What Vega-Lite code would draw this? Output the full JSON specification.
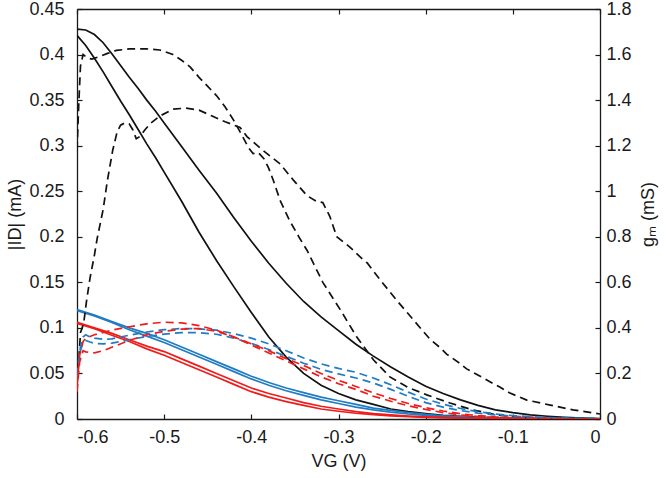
{
  "$schema": "https://vega.github.io/schema/vega-lite/v6.json",
  "width": 523,
  "height": 410,
  "autosize": {"type": "none"},
  "padding": {"left": 77, "top": 9, "right": 66, "bottom": 59},
  "background": "white",
  "config": {
    "view": {"stroke": null},
    "font": "Liberation Sans",
    "axis": {
      "grid": false,
      "domainColor": "#1a1a1a",
      "domainWidth": 1.3,
      "tickColor": "#1a1a1a",
      "tickWidth": 1.2,
      "tickSize": -5,
      "labelFont": "Liberation Sans",
      "labelFontSize": 18,
      "labelColor": "#1a1a1a",
      "titleFont": "Liberation Sans",
      "titleFontSize": 18,
      "titleFontWeight": "normal",
      "titleColor": "#1a1a1a",
      "labelExpr": "replace(format(datum.value, '~g'), '−', '-')"
    }
  },
  "datasets": {
    "curves": [
      {"s":"S1","g":"black","k":"id","v":-0.6,"y":0.428},{"s":"S1","g":"black","k":"id","v":-0.59,"y":0.427},{"s":"S1","g":"black","k":"id","v":-0.58,"y":0.422},{"s":"S1","g":"black","k":"id","v":-0.57,"y":0.413},{"s":"S1","g":"black","k":"id","v":-0.56,"y":0.401},{"s":"S1","g":"black","k":"id","v":-0.55,"y":0.388},{"s":"S1","g":"black","k":"id","v":-0.54,"y":0.375},{"s":"S1","g":"black","k":"id","v":-0.53,"y":0.363},{"s":"S1","g":"black","k":"id","v":-0.52,"y":0.35},{"s":"S1","g":"black","k":"id","v":-0.51,"y":0.338},{"s":"S1","g":"black","k":"id","v":-0.5,"y":0.325},{"s":"S1","g":"black","k":"id","v":-0.48,"y":0.299},{"s":"S1","g":"black","k":"id","v":-0.46,"y":0.273},{"s":"S1","g":"black","k":"id","v":-0.44,"y":0.248},{"s":"S1","g":"black","k":"id","v":-0.42,"y":0.221},{"s":"S1","g":"black","k":"id","v":-0.4,"y":0.195},{"s":"S1","g":"black","k":"id","v":-0.38,"y":0.171},{"s":"S1","g":"black","k":"id","v":-0.36,"y":0.149},{"s":"S1","g":"black","k":"id","v":-0.34,"y":0.129},{"s":"S1","g":"black","k":"id","v":-0.32,"y":0.112},{"s":"S1","g":"black","k":"id","v":-0.3,"y":0.097},{"s":"S1","g":"black","k":"id","v":-0.28,"y":0.082},{"s":"S1","g":"black","k":"id","v":-0.26,"y":0.069},{"s":"S1","g":"black","k":"id","v":-0.24,"y":0.057},{"s":"S1","g":"black","k":"id","v":-0.22,"y":0.046},{"s":"S1","g":"black","k":"id","v":-0.2,"y":0.036},{"s":"S1","g":"black","k":"id","v":-0.18,"y":0.028},{"s":"S1","g":"black","k":"id","v":-0.16,"y":0.021},{"s":"S1","g":"black","k":"id","v":-0.14,"y":0.015},{"s":"S1","g":"black","k":"id","v":-0.12,"y":0.01},{"s":"S1","g":"black","k":"id","v":-0.1,"y":0.007},{"s":"S1","g":"black","k":"id","v":-0.08,"y":0.0045},{"s":"S1","g":"black","k":"id","v":-0.06,"y":0.003},{"s":"S1","g":"black","k":"id","v":-0.04,"y":0.0018},{"s":"S1","g":"black","k":"id","v":-0.02,"y":0.001},{"s":"S1","g":"black","k":"id","v":0,"y":0.0005},

      {"s":"S2","g":"black","k":"id","v":-0.6,"y":0.421},{"s":"S2","g":"black","k":"id","v":-0.59,"y":0.41},{"s":"S2","g":"black","k":"id","v":-0.58,"y":0.396},{"s":"S2","g":"black","k":"id","v":-0.57,"y":0.381},{"s":"S2","g":"black","k":"id","v":-0.56,"y":0.365},{"s":"S2","g":"black","k":"id","v":-0.55,"y":0.349},{"s":"S2","g":"black","k":"id","v":-0.54,"y":0.334},{"s":"S2","g":"black","k":"id","v":-0.53,"y":0.318},{"s":"S2","g":"black","k":"id","v":-0.52,"y":0.302},{"s":"S2","g":"black","k":"id","v":-0.51,"y":0.287},{"s":"S2","g":"black","k":"id","v":-0.5,"y":0.271},{"s":"S2","g":"black","k":"id","v":-0.48,"y":0.239},{"s":"S2","g":"black","k":"id","v":-0.46,"y":0.205},{"s":"S2","g":"black","k":"id","v":-0.44,"y":0.174},{"s":"S2","g":"black","k":"id","v":-0.42,"y":0.145},{"s":"S2","g":"black","k":"id","v":-0.4,"y":0.117},{"s":"S2","g":"black","k":"id","v":-0.38,"y":0.09},{"s":"S2","g":"black","k":"id","v":-0.36,"y":0.068},{"s":"S2","g":"black","k":"id","v":-0.34,"y":0.05},{"s":"S2","g":"black","k":"id","v":-0.32,"y":0.037},{"s":"S2","g":"black","k":"id","v":-0.3,"y":0.028},{"s":"S2","g":"black","k":"id","v":-0.28,"y":0.021},{"s":"S2","g":"black","k":"id","v":-0.26,"y":0.016},{"s":"S2","g":"black","k":"id","v":-0.24,"y":0.011},{"s":"S2","g":"black","k":"id","v":-0.22,"y":0.008},{"s":"S2","g":"black","k":"id","v":-0.2,"y":0.006},{"s":"S2","g":"black","k":"id","v":-0.18,"y":0.004},{"s":"S2","g":"black","k":"id","v":-0.16,"y":0.003},{"s":"S2","g":"black","k":"id","v":-0.14,"y":0.002},{"s":"S2","g":"black","k":"id","v":-0.12,"y":0.0013},{"s":"S2","g":"black","k":"id","v":-0.1,"y":0.0008},{"s":"S2","g":"black","k":"id","v":-0.05,"y":0.0002},{"s":"S2","g":"black","k":"id","v":0,"y":0},

      {"s":"B1","g":"blue","k":"id","v":-0.6,"y":0.12},{"s":"B1","g":"blue","k":"id","v":-0.58,"y":0.114},{"s":"B1","g":"blue","k":"id","v":-0.56,"y":0.107},{"s":"B1","g":"blue","k":"id","v":-0.54,"y":0.1},{"s":"B1","g":"blue","k":"id","v":-0.52,"y":0.094},{"s":"B1","g":"blue","k":"id","v":-0.5,"y":0.087},{"s":"B1","g":"blue","k":"id","v":-0.48,"y":0.079},{"s":"B1","g":"blue","k":"id","v":-0.46,"y":0.071},{"s":"B1","g":"blue","k":"id","v":-0.44,"y":0.063},{"s":"B1","g":"blue","k":"id","v":-0.42,"y":0.055},{"s":"B1","g":"blue","k":"id","v":-0.4,"y":0.047},{"s":"B1","g":"blue","k":"id","v":-0.38,"y":0.04},{"s":"B1","g":"blue","k":"id","v":-0.36,"y":0.034},{"s":"B1","g":"blue","k":"id","v":-0.34,"y":0.029},{"s":"B1","g":"blue","k":"id","v":-0.32,"y":0.024},{"s":"B1","g":"blue","k":"id","v":-0.3,"y":0.02},{"s":"B1","g":"blue","k":"id","v":-0.28,"y":0.016},{"s":"B1","g":"blue","k":"id","v":-0.26,"y":0.012},{"s":"B1","g":"blue","k":"id","v":-0.24,"y":0.0095},{"s":"B1","g":"blue","k":"id","v":-0.22,"y":0.007},{"s":"B1","g":"blue","k":"id","v":-0.2,"y":0.005},{"s":"B1","g":"blue","k":"id","v":-0.18,"y":0.0035},{"s":"B1","g":"blue","k":"id","v":-0.16,"y":0.0025},{"s":"B1","g":"blue","k":"id","v":-0.14,"y":0.0016},{"s":"B1","g":"blue","k":"id","v":-0.12,"y":0.001},{"s":"B1","g":"blue","k":"id","v":-0.1,"y":0.0006},{"s":"B1","g":"blue","k":"id","v":-0.05,"y":0.0002},{"s":"B1","g":"blue","k":"id","v":0,"y":0},

      {"s":"B2","g":"blue","k":"id","v":-0.6,"y":0.119},{"s":"B2","g":"blue","k":"id","v":-0.58,"y":0.113},{"s":"B2","g":"blue","k":"id","v":-0.56,"y":0.106},{"s":"B2","g":"blue","k":"id","v":-0.54,"y":0.098},{"s":"B2","g":"blue","k":"id","v":-0.52,"y":0.091},{"s":"B2","g":"blue","k":"id","v":-0.5,"y":0.084},{"s":"B2","g":"blue","k":"id","v":-0.48,"y":0.076},{"s":"B2","g":"blue","k":"id","v":-0.46,"y":0.068},{"s":"B2","g":"blue","k":"id","v":-0.44,"y":0.06},{"s":"B2","g":"blue","k":"id","v":-0.42,"y":0.052},{"s":"B2","g":"blue","k":"id","v":-0.4,"y":0.044},{"s":"B2","g":"blue","k":"id","v":-0.38,"y":0.037},{"s":"B2","g":"blue","k":"id","v":-0.36,"y":0.031},{"s":"B2","g":"blue","k":"id","v":-0.34,"y":0.026},{"s":"B2","g":"blue","k":"id","v":-0.32,"y":0.021},{"s":"B2","g":"blue","k":"id","v":-0.3,"y":0.017},{"s":"B2","g":"blue","k":"id","v":-0.28,"y":0.013},{"s":"B2","g":"blue","k":"id","v":-0.26,"y":0.01},{"s":"B2","g":"blue","k":"id","v":-0.24,"y":0.0075},{"s":"B2","g":"blue","k":"id","v":-0.22,"y":0.0055},{"s":"B2","g":"blue","k":"id","v":-0.2,"y":0.004},{"s":"B2","g":"blue","k":"id","v":-0.18,"y":0.0028},{"s":"B2","g":"blue","k":"id","v":-0.16,"y":0.002},{"s":"B2","g":"blue","k":"id","v":-0.14,"y":0.0013},{"s":"B2","g":"blue","k":"id","v":-0.12,"y":0.0008},{"s":"B2","g":"blue","k":"id","v":-0.1,"y":0.0005},{"s":"B2","g":"blue","k":"id","v":-0.05,"y":0.0001},{"s":"B2","g":"blue","k":"id","v":0,"y":0},

      {"s":"R1","g":"red","k":"id","v":-0.6,"y":0.106},{"s":"R1","g":"red","k":"id","v":-0.58,"y":0.1},{"s":"R1","g":"red","k":"id","v":-0.56,"y":0.094},{"s":"R1","g":"red","k":"id","v":-0.54,"y":0.087},{"s":"R1","g":"red","k":"id","v":-0.52,"y":0.08},{"s":"R1","g":"red","k":"id","v":-0.5,"y":0.074},{"s":"R1","g":"red","k":"id","v":-0.48,"y":0.066},{"s":"R1","g":"red","k":"id","v":-0.46,"y":0.058},{"s":"R1","g":"red","k":"id","v":-0.44,"y":0.05},{"s":"R1","g":"red","k":"id","v":-0.42,"y":0.042},{"s":"R1","g":"red","k":"id","v":-0.4,"y":0.034},{"s":"R1","g":"red","k":"id","v":-0.38,"y":0.028},{"s":"R1","g":"red","k":"id","v":-0.36,"y":0.023},{"s":"R1","g":"red","k":"id","v":-0.34,"y":0.018},{"s":"R1","g":"red","k":"id","v":-0.32,"y":0.014},{"s":"R1","g":"red","k":"id","v":-0.3,"y":0.011},{"s":"R1","g":"red","k":"id","v":-0.28,"y":0.008},{"s":"R1","g":"red","k":"id","v":-0.26,"y":0.006},{"s":"R1","g":"red","k":"id","v":-0.24,"y":0.0045},{"s":"R1","g":"red","k":"id","v":-0.22,"y":0.0033},{"s":"R1","g":"red","k":"id","v":-0.2,"y":0.0024},{"s":"R1","g":"red","k":"id","v":-0.18,"y":0.0017},{"s":"R1","g":"red","k":"id","v":-0.16,"y":0.0012},{"s":"R1","g":"red","k":"id","v":-0.14,"y":0.0008},{"s":"R1","g":"red","k":"id","v":-0.12,"y":0.0005},{"s":"R1","g":"red","k":"id","v":-0.1,"y":0.0003},{"s":"R1","g":"red","k":"id","v":-0.05,"y":0.0001},{"s":"R1","g":"red","k":"id","v":0,"y":0},

      {"s":"R2","g":"red","k":"id","v":-0.6,"y":0.105},{"s":"R2","g":"red","k":"id","v":-0.58,"y":0.099},{"s":"R2","g":"red","k":"id","v":-0.56,"y":0.092},{"s":"R2","g":"red","k":"id","v":-0.54,"y":0.085},{"s":"R2","g":"red","k":"id","v":-0.52,"y":0.077},{"s":"R2","g":"red","k":"id","v":-0.5,"y":0.07},{"s":"R2","g":"red","k":"id","v":-0.48,"y":0.062},{"s":"R2","g":"red","k":"id","v":-0.46,"y":0.054},{"s":"R2","g":"red","k":"id","v":-0.44,"y":0.046},{"s":"R2","g":"red","k":"id","v":-0.42,"y":0.038},{"s":"R2","g":"red","k":"id","v":-0.4,"y":0.03},{"s":"R2","g":"red","k":"id","v":-0.38,"y":0.024},{"s":"R2","g":"red","k":"id","v":-0.36,"y":0.019},{"s":"R2","g":"red","k":"id","v":-0.34,"y":0.015},{"s":"R2","g":"red","k":"id","v":-0.32,"y":0.011},{"s":"R2","g":"red","k":"id","v":-0.3,"y":0.0085},{"s":"R2","g":"red","k":"id","v":-0.28,"y":0.0063},{"s":"R2","g":"red","k":"id","v":-0.26,"y":0.0047},{"s":"R2","g":"red","k":"id","v":-0.24,"y":0.0035},{"s":"R2","g":"red","k":"id","v":-0.22,"y":0.0025},{"s":"R2","g":"red","k":"id","v":-0.2,"y":0.0018},{"s":"R2","g":"red","k":"id","v":-0.18,"y":0.0013},{"s":"R2","g":"red","k":"id","v":-0.16,"y":0.0009},{"s":"R2","g":"red","k":"id","v":-0.14,"y":0.0006},{"s":"R2","g":"red","k":"id","v":-0.12,"y":0.0004},{"s":"R2","g":"red","k":"id","v":-0.1,"y":0.0002},{"s":"R2","g":"red","k":"id","v":-0.05,"y":0.0001},{"s":"R2","g":"red","k":"id","v":0,"y":0},

      {"s":"D1","g":"black","k":"gm","v":-0.6,"y":1.18},{"s":"D1","g":"black","k":"gm","v":-0.598,"y":1.38},{"s":"D1","g":"black","k":"gm","v":-0.596,"y":1.55},{"s":"D1","g":"black","k":"gm","v":-0.593,"y":1.6},{"s":"D1","g":"black","k":"gm","v":-0.588,"y":1.585},{"s":"D1","g":"black","k":"gm","v":-0.583,"y":1.58},{"s":"D1","g":"black","k":"gm","v":-0.575,"y":1.59},{"s":"D1","g":"black","k":"gm","v":-0.565,"y":1.605},{"s":"D1","g":"black","k":"gm","v":-0.555,"y":1.618},{"s":"D1","g":"black","k":"gm","v":-0.54,"y":1.625},{"s":"D1","g":"black","k":"gm","v":-0.52,"y":1.625},{"s":"D1","g":"black","k":"gm","v":-0.505,"y":1.62},{"s":"D1","g":"black","k":"gm","v":-0.49,"y":1.6},{"s":"D1","g":"black","k":"gm","v":-0.48,"y":1.575},{"s":"D1","g":"black","k":"gm","v":-0.47,"y":1.545},{"s":"D1","g":"black","k":"gm","v":-0.46,"y":1.5},{"s":"D1","g":"black","k":"gm","v":-0.45,"y":1.46},{"s":"D1","g":"black","k":"gm","v":-0.44,"y":1.42},{"s":"D1","g":"black","k":"gm","v":-0.43,"y":1.37},{"s":"D1","g":"black","k":"gm","v":-0.42,"y":1.31},{"s":"D1","g":"black","k":"gm","v":-0.41,"y":1.24},{"s":"D1","g":"black","k":"gm","v":-0.403,"y":1.19},{"s":"D1","g":"black","k":"gm","v":-0.398,"y":1.165},{"s":"D1","g":"black","k":"gm","v":-0.392,"y":1.17},{"s":"D1","g":"black","k":"gm","v":-0.385,"y":1.14},{"s":"D1","g":"black","k":"gm","v":-0.38,"y":1.1},{"s":"D1","g":"black","k":"gm","v":-0.375,"y":1.05},{"s":"D1","g":"black","k":"gm","v":-0.367,"y":0.96},{"s":"D1","g":"black","k":"gm","v":-0.356,"y":0.87},{"s":"D1","g":"black","k":"gm","v":-0.344,"y":0.79},{"s":"D1","g":"black","k":"gm","v":-0.336,"y":0.74},{"s":"D1","g":"black","k":"gm","v":-0.329,"y":0.685},{"s":"D1","g":"black","k":"gm","v":-0.318,"y":0.6},{"s":"D1","g":"black","k":"gm","v":-0.298,"y":0.48},{"s":"D1","g":"black","k":"gm","v":-0.279,"y":0.36},{"s":"D1","g":"black","k":"gm","v":-0.26,"y":0.26},{"s":"D1","g":"black","k":"gm","v":-0.241,"y":0.185},{"s":"D1","g":"black","k":"gm","v":-0.221,"y":0.14},{"s":"D1","g":"black","k":"gm","v":-0.198,"y":0.105},{"s":"D1","g":"black","k":"gm","v":-0.172,"y":0.07},{"s":"D1","g":"black","k":"gm","v":-0.146,"y":0.04},{"s":"D1","g":"black","k":"gm","v":-0.118,"y":0.018},{"s":"D1","g":"black","k":"gm","v":-0.09,"y":0.008},{"s":"D1","g":"black","k":"gm","v":-0.06,"y":0.004},{"s":"D1","g":"black","k":"gm","v":-0.03,"y":0.002},{"s":"D1","g":"black","k":"gm","v":0,"y":0.001},

      {"s":"D2","g":"black","k":"gm","v":-0.6,"y":0.15},{"s":"D2","g":"black","k":"gm","v":-0.598,"y":0.25},{"s":"D2","g":"black","k":"gm","v":-0.596,"y":0.38},{"s":"D2","g":"black","k":"gm","v":-0.594,"y":0.4},{"s":"D2","g":"black","k":"gm","v":-0.592,"y":0.43},{"s":"D2","g":"black","k":"gm","v":-0.589,"y":0.52},{"s":"D2","g":"black","k":"gm","v":-0.585,"y":0.62},{"s":"D2","g":"black","k":"gm","v":-0.58,"y":0.72},{"s":"D2","g":"black","k":"gm","v":-0.577,"y":0.79},{"s":"D2","g":"black","k":"gm","v":-0.57,"y":0.92},{"s":"D2","g":"black","k":"gm","v":-0.565,"y":1.05},{"s":"D2","g":"black","k":"gm","v":-0.559,"y":1.18},{"s":"D2","g":"black","k":"gm","v":-0.554,"y":1.26},{"s":"D2","g":"black","k":"gm","v":-0.55,"y":1.29},{"s":"D2","g":"black","k":"gm","v":-0.545,"y":1.3},{"s":"D2","g":"black","k":"gm","v":-0.54,"y":1.295},{"s":"D2","g":"black","k":"gm","v":-0.536,"y":1.27},{"s":"D2","g":"black","k":"gm","v":-0.532,"y":1.23},{"s":"D2","g":"black","k":"gm","v":-0.528,"y":1.24},{"s":"D2","g":"black","k":"gm","v":-0.522,"y":1.27},{"s":"D2","g":"black","k":"gm","v":-0.515,"y":1.3},{"s":"D2","g":"black","k":"gm","v":-0.505,"y":1.33},{"s":"D2","g":"black","k":"gm","v":-0.49,"y":1.36},{"s":"D2","g":"black","k":"gm","v":-0.475,"y":1.365},{"s":"D2","g":"black","k":"gm","v":-0.46,"y":1.356},{"s":"D2","g":"black","k":"gm","v":-0.445,"y":1.33},{"s":"D2","g":"black","k":"gm","v":-0.43,"y":1.305},{"s":"D2","g":"black","k":"gm","v":-0.413,"y":1.28},{"s":"D2","g":"black","k":"gm","v":-0.405,"y":1.24},{"s":"D2","g":"black","k":"gm","v":-0.387,"y":1.18},{"s":"D2","g":"black","k":"gm","v":-0.367,"y":1.12},{"s":"D2","g":"black","k":"gm","v":-0.352,"y":1.05},{"s":"D2","g":"black","k":"gm","v":-0.336,"y":0.98},{"s":"D2","g":"black","k":"gm","v":-0.325,"y":0.955},{"s":"D2","g":"black","k":"gm","v":-0.318,"y":0.95},{"s":"D2","g":"black","k":"gm","v":-0.31,"y":0.89},{"s":"D2","g":"black","k":"gm","v":-0.302,"y":0.8},{"s":"D2","g":"black","k":"gm","v":-0.287,"y":0.755},{"s":"D2","g":"black","k":"gm","v":-0.272,"y":0.7},{"s":"D2","g":"black","k":"gm","v":-0.267,"y":0.685},{"s":"D2","g":"black","k":"gm","v":-0.252,"y":0.61},{"s":"D2","g":"black","k":"gm","v":-0.233,"y":0.52},{"s":"D2","g":"black","k":"gm","v":-0.214,"y":0.435},{"s":"D2","g":"black","k":"gm","v":-0.195,"y":0.35},{"s":"D2","g":"black","k":"gm","v":-0.184,"y":0.315},{"s":"D2","g":"black","k":"gm","v":-0.176,"y":0.285},{"s":"D2","g":"black","k":"gm","v":-0.161,"y":0.245},{"s":"D2","g":"black","k":"gm","v":-0.153,"y":0.22},{"s":"D2","g":"black","k":"gm","v":-0.134,"y":0.18},{"s":"D2","g":"black","k":"gm","v":-0.115,"y":0.14},{"s":"D2","g":"black","k":"gm","v":-0.104,"y":0.115},{"s":"D2","g":"black","k":"gm","v":-0.084,"y":0.083},{"s":"D2","g":"black","k":"gm","v":-0.057,"y":0.061},{"s":"D2","g":"black","k":"gm","v":-0.031,"y":0.04},{"s":"D2","g":"black","k":"gm","v":0,"y":0.022},

      {"s":"BD1","g":"blue","k":"gm","v":-0.6,"y":0.19},{"s":"BD1","g":"blue","k":"gm","v":-0.598,"y":0.26},{"s":"BD1","g":"blue","k":"gm","v":-0.596,"y":0.32},{"s":"BD1","g":"blue","k":"gm","v":-0.593,"y":0.36},{"s":"BD1","g":"blue","k":"gm","v":-0.59,"y":0.37},{"s":"BD1","g":"blue","k":"gm","v":-0.585,"y":0.36},{"s":"BD1","g":"blue","k":"gm","v":-0.58,"y":0.355},{"s":"BD1","g":"blue","k":"gm","v":-0.57,"y":0.35},{"s":"BD1","g":"blue","k":"gm","v":-0.56,"y":0.352},{"s":"BD1","g":"blue","k":"gm","v":-0.55,"y":0.36},{"s":"BD1","g":"blue","k":"gm","v":-0.54,"y":0.368},{"s":"BD1","g":"blue","k":"gm","v":-0.52,"y":0.382},{"s":"BD1","g":"blue","k":"gm","v":-0.5,"y":0.392},{"s":"BD1","g":"blue","k":"gm","v":-0.48,"y":0.397},{"s":"BD1","g":"blue","k":"gm","v":-0.46,"y":0.396},{"s":"BD1","g":"blue","k":"gm","v":-0.44,"y":0.39},{"s":"BD1","g":"blue","k":"gm","v":-0.42,"y":0.375},{"s":"BD1","g":"blue","k":"gm","v":-0.4,"y":0.355},{"s":"BD1","g":"blue","k":"gm","v":-0.38,"y":0.33},{"s":"BD1","g":"blue","k":"gm","v":-0.36,"y":0.3},{"s":"BD1","g":"blue","k":"gm","v":-0.34,"y":0.268},{"s":"BD1","g":"blue","k":"gm","v":-0.32,"y":0.242},{"s":"BD1","g":"blue","k":"gm","v":-0.3,"y":0.222},{"s":"BD1","g":"blue","k":"gm","v":-0.28,"y":0.205},{"s":"BD1","g":"blue","k":"gm","v":-0.26,"y":0.18},{"s":"BD1","g":"blue","k":"gm","v":-0.24,"y":0.15},{"s":"BD1","g":"blue","k":"gm","v":-0.22,"y":0.118},{"s":"BD1","g":"blue","k":"gm","v":-0.2,"y":0.088},{"s":"BD1","g":"blue","k":"gm","v":-0.18,"y":0.065},{"s":"BD1","g":"blue","k":"gm","v":-0.16,"y":0.046},{"s":"BD1","g":"blue","k":"gm","v":-0.14,"y":0.032},{"s":"BD1","g":"blue","k":"gm","v":-0.12,"y":0.022},{"s":"BD1","g":"blue","k":"gm","v":-0.1,"y":0.015},{"s":"BD1","g":"blue","k":"gm","v":-0.08,"y":0.01},{"s":"BD1","g":"blue","k":"gm","v":-0.05,"y":0.005},{"s":"BD1","g":"blue","k":"gm","v":0,"y":0.002},

      {"s":"BD2","g":"blue","k":"gm","v":-0.6,"y":0.18},{"s":"BD2","g":"blue","k":"gm","v":-0.598,"y":0.24},{"s":"BD2","g":"blue","k":"gm","v":-0.596,"y":0.3},{"s":"BD2","g":"blue","k":"gm","v":-0.593,"y":0.335},{"s":"BD2","g":"blue","k":"gm","v":-0.59,"y":0.345},{"s":"BD2","g":"blue","k":"gm","v":-0.585,"y":0.338},{"s":"BD2","g":"blue","k":"gm","v":-0.58,"y":0.332},{"s":"BD2","g":"blue","k":"gm","v":-0.57,"y":0.33},{"s":"BD2","g":"blue","k":"gm","v":-0.56,"y":0.333},{"s":"BD2","g":"blue","k":"gm","v":-0.55,"y":0.34},{"s":"BD2","g":"blue","k":"gm","v":-0.54,"y":0.348},{"s":"BD2","g":"blue","k":"gm","v":-0.52,"y":0.362},{"s":"BD2","g":"blue","k":"gm","v":-0.5,"y":0.373},{"s":"BD2","g":"blue","k":"gm","v":-0.48,"y":0.379},{"s":"BD2","g":"blue","k":"gm","v":-0.46,"y":0.379},{"s":"BD2","g":"blue","k":"gm","v":-0.44,"y":0.372},{"s":"BD2","g":"blue","k":"gm","v":-0.42,"y":0.355},{"s":"BD2","g":"blue","k":"gm","v":-0.4,"y":0.332},{"s":"BD2","g":"blue","k":"gm","v":-0.38,"y":0.305},{"s":"BD2","g":"blue","k":"gm","v":-0.36,"y":0.275},{"s":"BD2","g":"blue","k":"gm","v":-0.34,"y":0.245},{"s":"BD2","g":"blue","k":"gm","v":-0.32,"y":0.218},{"s":"BD2","g":"blue","k":"gm","v":-0.3,"y":0.198},{"s":"BD2","g":"blue","k":"gm","v":-0.28,"y":0.18},{"s":"BD2","g":"blue","k":"gm","v":-0.26,"y":0.158},{"s":"BD2","g":"blue","k":"gm","v":-0.24,"y":0.13},{"s":"BD2","g":"blue","k":"gm","v":-0.22,"y":0.1},{"s":"BD2","g":"blue","k":"gm","v":-0.2,"y":0.072},{"s":"BD2","g":"blue","k":"gm","v":-0.18,"y":0.052},{"s":"BD2","g":"blue","k":"gm","v":-0.16,"y":0.037},{"s":"BD2","g":"blue","k":"gm","v":-0.14,"y":0.026},{"s":"BD2","g":"blue","k":"gm","v":-0.12,"y":0.018},{"s":"BD2","g":"blue","k":"gm","v":-0.1,"y":0.012},{"s":"BD2","g":"blue","k":"gm","v":-0.08,"y":0.008},{"s":"BD2","g":"blue","k":"gm","v":-0.05,"y":0.004},{"s":"BD2","g":"blue","k":"gm","v":0,"y":0.001},

      {"s":"RD1","g":"red","k":"gm","v":-0.6,"y":0.15},{"s":"RD1","g":"red","k":"gm","v":-0.597,"y":0.28},{"s":"RD1","g":"red","k":"gm","v":-0.593,"y":0.34},{"s":"RD1","g":"red","k":"gm","v":-0.59,"y":0.355},{"s":"RD1","g":"red","k":"gm","v":-0.58,"y":0.37},{"s":"RD1","g":"red","k":"gm","v":-0.56,"y":0.39},{"s":"RD1","g":"red","k":"gm","v":-0.54,"y":0.405},{"s":"RD1","g":"red","k":"gm","v":-0.52,"y":0.418},{"s":"RD1","g":"red","k":"gm","v":-0.5,"y":0.425},{"s":"RD1","g":"red","k":"gm","v":-0.48,"y":0.422},{"s":"RD1","g":"red","k":"gm","v":-0.46,"y":0.41},{"s":"RD1","g":"red","k":"gm","v":-0.44,"y":0.39},{"s":"RD1","g":"red","k":"gm","v":-0.42,"y":0.36},{"s":"RD1","g":"red","k":"gm","v":-0.4,"y":0.325},{"s":"RD1","g":"red","k":"gm","v":-0.38,"y":0.29},{"s":"RD1","g":"red","k":"gm","v":-0.36,"y":0.255},{"s":"RD1","g":"red","k":"gm","v":-0.34,"y":0.22},{"s":"RD1","g":"red","k":"gm","v":-0.32,"y":0.185},{"s":"RD1","g":"red","k":"gm","v":-0.3,"y":0.155},{"s":"RD1","g":"red","k":"gm","v":-0.28,"y":0.13},{"s":"RD1","g":"red","k":"gm","v":-0.26,"y":0.1},{"s":"RD1","g":"red","k":"gm","v":-0.24,"y":0.078},{"s":"RD1","g":"red","k":"gm","v":-0.22,"y":0.058},{"s":"RD1","g":"red","k":"gm","v":-0.2,"y":0.042},{"s":"RD1","g":"red","k":"gm","v":-0.18,"y":0.028},{"s":"RD1","g":"red","k":"gm","v":-0.16,"y":0.018},{"s":"RD1","g":"red","k":"gm","v":-0.14,"y":0.011},{"s":"RD1","g":"red","k":"gm","v":-0.12,"y":0.007},{"s":"RD1","g":"red","k":"gm","v":-0.1,"y":0.004},{"s":"RD1","g":"red","k":"gm","v":-0.05,"y":0.001},{"s":"RD1","g":"red","k":"gm","v":0,"y":0},

      {"s":"RD2","g":"red","k":"gm","v":-0.6,"y":0.12},{"s":"RD2","g":"red","k":"gm","v":-0.597,"y":0.25},{"s":"RD2","g":"red","k":"gm","v":-0.593,"y":0.3},{"s":"RD2","g":"red","k":"gm","v":-0.59,"y":0.295},{"s":"RD2","g":"red","k":"gm","v":-0.58,"y":0.29},{"s":"RD2","g":"red","k":"gm","v":-0.57,"y":0.3},{"s":"RD2","g":"red","k":"gm","v":-0.56,"y":0.315},{"s":"RD2","g":"red","k":"gm","v":-0.54,"y":0.345},{"s":"RD2","g":"red","k":"gm","v":-0.52,"y":0.37},{"s":"RD2","g":"red","k":"gm","v":-0.5,"y":0.385},{"s":"RD2","g":"red","k":"gm","v":-0.48,"y":0.395},{"s":"RD2","g":"red","k":"gm","v":-0.46,"y":0.397},{"s":"RD2","g":"red","k":"gm","v":-0.44,"y":0.385},{"s":"RD2","g":"red","k":"gm","v":-0.42,"y":0.36},{"s":"RD2","g":"red","k":"gm","v":-0.4,"y":0.33},{"s":"RD2","g":"red","k":"gm","v":-0.38,"y":0.3},{"s":"RD2","g":"red","k":"gm","v":-0.36,"y":0.265},{"s":"RD2","g":"red","k":"gm","v":-0.34,"y":0.235},{"s":"RD2","g":"red","k":"gm","v":-0.32,"y":0.2},{"s":"RD2","g":"red","k":"gm","v":-0.3,"y":0.17},{"s":"RD2","g":"red","k":"gm","v":-0.28,"y":0.143},{"s":"RD2","g":"red","k":"gm","v":-0.26,"y":0.115},{"s":"RD2","g":"red","k":"gm","v":-0.24,"y":0.09},{"s":"RD2","g":"red","k":"gm","v":-0.22,"y":0.068},{"s":"RD2","g":"red","k":"gm","v":-0.2,"y":0.05},{"s":"RD2","g":"red","k":"gm","v":-0.18,"y":0.035},{"s":"RD2","g":"red","k":"gm","v":-0.16,"y":0.023},{"s":"RD2","g":"red","k":"gm","v":-0.14,"y":0.015},{"s":"RD2","g":"red","k":"gm","v":-0.12,"y":0.009},{"s":"RD2","g":"red","k":"gm","v":-0.1,"y":0.005},{"s":"RD2","g":"red","k":"gm","v":-0.05,"y":0.0015},{"s":"RD2","g":"red","k":"gm","v":0,"y":0}
    ]
  },
  "data": {"name": "curves"},
  "layer": [
    {
      "transform": [{"filter": "datum.k == 'id'"}],
      "mark": {"type": "line", "strokeWidth": 1.7, "clip": true},
      "encoding": {
        "x": {
          "field": "v", "type": "quantitative",
          "scale": {"domain": [-0.6, 0], "nice": false, "zero": false},
          "axis": {"orient": "bottom", "values": [-0.6, -0.5, -0.4, -0.3, -0.2, -0.1, 0], "labelPadding": 14, "title": "VG (V)", "titlePadding": 6}
        },
        "y": {
          "field": "y", "type": "quantitative",
          "scale": {"domain": [0, 0.45], "nice": false},
          "axis": {"orient": "left", "values": [0, 0.05, 0.1, 0.15, 0.2, 0.25, 0.3, 0.35, 0.4, 0.45], "labelPadding": 18, "title": "|ID| (mA)", "titlePadding": 4}
        },
        "color": {"field": "g", "type": "nominal", "scale": {"domain": ["black", "blue", "red"], "range": ["#111111", "#1f7cc2", "#f01b1b"]}, "legend": null},
        "detail": {"field": "s", "type": "nominal"}
      }
    },
    {
      "transform": [{"filter": "datum.k == 'gm'"}],
      "mark": {"type": "line", "strokeWidth": 1.7, "strokeDash": [8, 5], "clip": true},
      "encoding": {
        "x": {
          "field": "v", "type": "quantitative",
          "scale": {"domain": [-0.6, 0], "nice": false, "zero": false},
          "axis": {"orient": "top", "values": [-0.6, -0.5, -0.4, -0.3, -0.2, -0.1, 0], "labels": false, "title": null}
        },
        "y": {
          "field": "y", "type": "quantitative",
          "scale": {"domain": [0, 1.8], "nice": false},
          "axis": {"orient": "right", "values": [0, 0.2, 0.4, 0.6, 0.8, 1, 1.2, 1.4, 1.6, 1.8], "labelPadding": 11, "title": "gₘ (mS)", "titleAngle": 270, "titlePadding": 26}
        },
        "color": {"field": "g", "type": "nominal", "scale": {"domain": ["black", "blue", "red"], "range": ["#111111", "#1f7cc2", "#f01b1b"]}, "legend": null},
        "detail": {"field": "s", "type": "nominal"}
      }
    }
  ],
  "resolve": {"scale": {"y": "independent"}, "axis": {"x": "independent"}}
}
